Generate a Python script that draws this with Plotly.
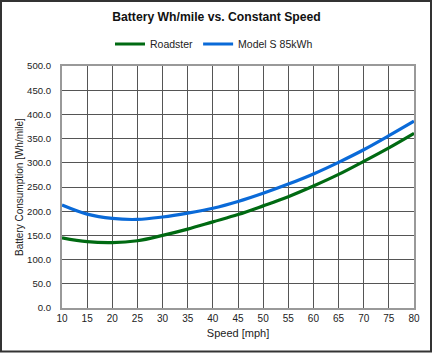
import plotly.graph_objects as go

speed = [10, 15, 20, 25, 30, 35, 40, 45, 50, 55, 60, 65, 70, 75, 80]
roadster = [145, 137, 135, 139, 150, 163, 178, 193, 211, 230, 252, 276, 303, 331, 361]
model_s = [213, 194, 185, 183, 188, 196, 206, 220, 237, 256, 277, 301, 327, 356, 386]

x_ticks = list(range(10, 81, 5))
y_ticks = list(range(0, 501, 50))

W, H = 433, 354
L, R, T, B = 62, 19, 66, 46
pw, ph = W - L - R, H - T - B

fig = go.Figure()
fig.add_trace(go.Scatter(x=speed, y=roadster, mode="lines", name="Roadster",
                         line=dict(color="#006a12", width=3.2, shape="spline", smoothing=1.0)))
fig.add_trace(go.Scatter(x=speed, y=model_s, mode="lines", name="Model S 85kWh",
                         line=dict(color="#0a6ad8", width=3.2, shape="spline", smoothing=1.0)))

def px_to_paper_x(px):
    return (px - L) / pw

def px_to_paper_y(py):
    return (H - B - py) / ph

fig.add_shape(type="rect", xref="paper", yref="paper",
              x0=px_to_paper_x(1), x1=px_to_paper_x(431),
              y0=px_to_paper_y(351.5), y1=px_to_paper_y(1),
              line=dict(color="#333333", width=2), layer="below")

fig.add_annotation(text="Battery Consumption [Wh/mile]", xref="paper", yref="paper",
                   x=px_to_paper_x(19), y=0.5, textangle=-90, showarrow=False,
                   xanchor="center", yanchor="middle", font=dict(size=10, color="#222222"))

fig.update_layout(
    width=W, height=H,
    margin=dict(l=L, r=R, t=T, b=B),
    paper_bgcolor="white", plot_bgcolor="white",
    font=dict(family="Liberation Sans, Arial, sans-serif", size=11, color="#222222"),
    title=dict(text="<b>Battery Wh/mile vs. Constant Speed</b>", x=0.5, xanchor="center",
               y=1 - 17 / H, yanchor="middle", font=dict(size=12.2, color="#111111")),
    legend=dict(orientation="h", x=px_to_paper_x(214), xanchor="center",
                y=px_to_paper_y(44), yanchor="middle", font=dict(size=10.5),
                itemwidth=30, tracegroupgap=0, bgcolor="rgba(0,0,0,0)"),
    showlegend=True,
    xaxis=dict(range=[10, 80], tickvals=x_ticks, ticktext=[str(v) for v in x_ticks],
               showgrid=True, gridcolor="#555555", gridwidth=1,
               showline=True, linecolor="#999999", linewidth=2, mirror=True,
               ticks="", zeroline=False, tickfont=dict(size=10),
               title=dict(text="Speed [mph]", font=dict(size=11), standoff=6)),
    yaxis=dict(range=[0, 500], tickvals=y_ticks, ticktext=[f"{v:.1f}" for v in y_ticks],
               showgrid=True, gridcolor="#555555", gridwidth=1,
               showline=True, linecolor="#999999", linewidth=2, mirror=True,
               ticks="", zeroline=False, tickfont=dict(size=9.6),
               ticklabelstandoff=7),
)

fig.write_html("out.html")
